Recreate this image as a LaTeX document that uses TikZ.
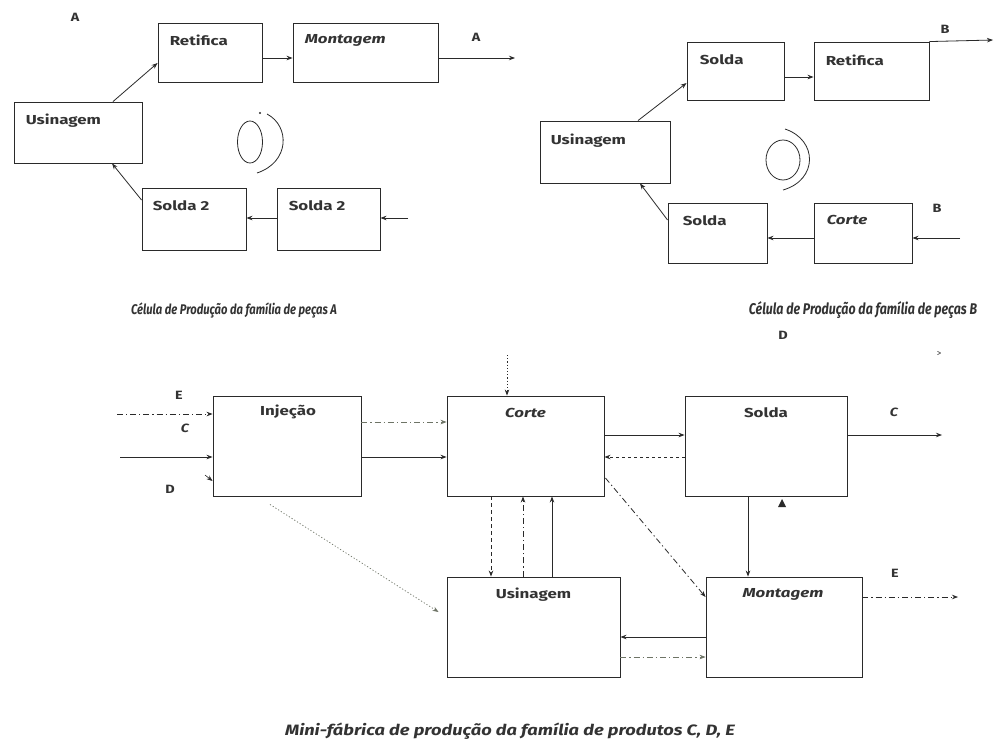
\documentclass[tikz,border=0pt]{standalone}
\usepackage{fontspec}
\setmainfont{Fira Sans}
\newfontfamily\boxfont[FakeStretch=1.3]{Fira Sans}
\newfontfamily\tagfont[FakeStretch=1.2]{Fira Sans}
\newfontfamily\capfont[FakeStretch=0.8]{Fira Sans}
\newfontfamily\bigcapfont[FakeStretch=1.22]{Fira Sans}
\usetikzlibrary{arrows.meta,calc}
\definecolor{ink}{HTML}{2A2A2A}
\definecolor{txt}{HTML}{333333}
\definecolor{pale}{HTML}{6E7466}
\tikzset{
  x=1pt, y=-1pt,
  box/.style={draw=ink, line width=0.9pt, rectangle, inner sep=0pt},
  lbl/.style={font=\boxfont\bfseries\fontsize{13}{13}\selectfont, text=txt, inner sep=0pt},
  lbli/.style={lbl, font=\boxfont\bfseries\itshape\fontsize{13}{13}\selectfont},
  tag/.style={font=\tagfont\bfseries\fontsize{12}{12}\selectfont, text=txt, inner sep=0pt},
  tagi/.style={tag, font=\tagfont\bfseries\itshape\fontsize{12}{12}\selectfont},
  capt/.style={font=\capfont\bfseries\itshape\fontsize{14}{14}\selectfont, text=txt, inner sep=0pt},
  flow/.style={draw=ink, line width=0.8pt, -{Stealth[length=6pt,width=4.5pt]}},
  dflow/.style={flow, dash pattern=on 4pt off 3pt},
  ddflow/.style={flow, dash pattern=on 6pt off 3pt on 1.2pt off 3pt},
  pflow/.style={flow, draw=pale, line width=0.7pt, dash pattern=on 1.2pt off 2pt},
  gflow/.style={flow, draw=pale, line width=0.7pt, dash pattern=on 6pt off 3pt on 1.2pt off 3pt},
}
\begin{document}
\begin{tikzpicture}
\useasboundingbox[fill=white] (0,0) rectangle (999,745);

% ---------- cell for part family A ----------
\node[box, minimum width=104pt, minimum height=59pt] (RetA) at (210,52.5) {};
\node[box, minimum width=145pt, minimum height=59pt] (MontA) at (365.5,52.5) {};
\node[box, minimum width=128pt, minimum height=61pt] (UsiA) at (78,132.5) {};
\node[box, minimum width=104pt, minimum height=62pt] (SolA1) at (194,219) {};
\node[box, minimum width=103pt, minimum height=62pt] (SolA2) at (328.5,219) {};
\node[lbl, anchor=north west] at ($(RetA.north west)+(12,12)$) {Retifica};
\node[lbli, anchor=north west] at ($(MontA.north west)+(12,12)$) {Montagem};
\node[lbl, anchor=north west] at ($(UsiA.north west)+(12,12)$) {Usinagem};
\node[lbl, anchor=north west] at ($(SolA1.north west)+(11,13)$) {Solda 2};
\node[lbl, anchor=north west] at ($(SolA2.north west)+(12,13)$) {Solda 2};
\node[tag] (tagA1) at (75,17) {A};
\node[tag] (tagA2) at (476,37) {A};
\coordinate (outA) at (515,58);
\coordinate (inA) at (408,218);
\draw[flow] (RetA.east |- 0,58) -- (MontA.west |- 0,58);
\draw[flow] (MontA.east |- 0,58) -- (outA);
\draw[flow] (UsiA.north -| 113,0) -- (RetA.west |- 0,63);
\draw[flow] (SolA2.west |- 0,218) -- (SolA1.east |- 0,218);
\draw[flow] (inA) -- (SolA2.east |- 0,218);
\draw[flow] (SolA1.west |- 0,200) -- (UsiA.south -| 112,0);
% flow symbol
\draw[ink, line width=0.8pt] (250,142) ellipse [x radius=12.5, y radius=21];
\draw[ink, line width=0.8pt] (267,114) .. controls (290,126) and (290,162) .. (257,173);
\fill[ink] (260,113) circle (1.1);

% ---------- cell for part family B ----------
\node[box, minimum width=97pt, minimum height=58pt] (SolB1) at (735.5,71) {};
\node[box, minimum width=115pt, minimum height=58pt] (RetB) at (871.5,71) {};
\node[box, minimum width=130pt, minimum height=62pt] (UsiB) at (605,152) {};
\node[box, minimum width=99pt, minimum height=60pt] (SolB2) at (717.5,233) {};
\node[box, minimum width=98pt, minimum height=60pt] (CorB) at (863,233) {};
\node[lbl, anchor=north west] at ($(SolB1.north west)+(13,13)$) {Solda};
\node[lbl, anchor=north west] at ($(RetB.north west)+(12,13)$) {Retifica};
\node[lbl, anchor=north west] at ($(UsiB.north west)+(11,13)$) {Usinagem};
\node[lbl, anchor=north west] at ($(SolB2.north west)+(15,13)$) {Solda};
\node[lbli, anchor=north west] at ($(CorB.north west)+(13,13)$) {Corte};
\node[tag] (tagB1) at (945,29) {B};
\node[tag] (tagB2) at (937,208) {B};
\coordinate (outB) at (993,40);
\coordinate (inB) at (960,238);
\draw[flow] (SolB1.east |- 0,77) -- (RetB.west |- 0,77);
\draw[flow] (RetB.north east) -- (outB);
\draw[flow] (UsiB.north -| 638,0) -- (SolB1.west |- 0,83);
\draw[flow] (CorB.west |- 0,238) -- (SolB2.east |- 0,238);
\draw[flow] (inB) -- (CorB.east |- 0,238);
\draw[flow] (SolB2.west |- 0,220) -- (UsiB.south -| 640,0);
% flow symbol
\draw[ink, line width=0.8pt] (783,160) ellipse [x radius=17, y radius=20];
\draw[ink, line width=0.8pt] (785,129) .. controls (818,140) and (818,180) .. (783,190);

% ---------- captions ----------
\node[capt] (capA) at (234,310) {Célula de Produção da família de peças A};
\node[capt, font=\capfont\bfseries\itshape\fontsize{15.5}{15.5}\selectfont] (capB) at (863,310) {Célula de Produção da família de peças B};
\node[tag] (tagD) at (783,335) {D};
\node[font=\fontsize{9}{9}\selectfont, text=txt, inner sep=0pt] (gt) at (939,354) {>};

% ---------- mini factory for product families C, D, E ----------
\node[box, minimum width=148pt, minimum height=100pt] (Inj) at (287,446) {};
\node[box, minimum width=157pt, minimum height=100pt] (Cor) at (525.5,446) {};
\node[box, minimum width=162pt, minimum height=100pt] (Sol) at (766,446) {};
\node[box, minimum width=173pt, minimum height=100pt] (Usi) at (533.5,627) {};
\node[box, minimum width=156pt, minimum height=100pt] (Mon) at (784,627) {};
\node[lbl] at ($(Inj.north)+(1,16)$) {Injeção};
\node[lbli] at ($(Cor.north)+(0,17)$) {Corte};
\node[lbl] at ($(Sol.north)+(0,17)$) {Solda};
\node[lbl] at ($(Usi.north)+(0,18)$) {Usinagem};
\node[lbli] at ($(Mon.north)+(-1,18)$) {Montagem};

\node[tag] (tagE1) at (179,395) {E};
\node[tagi] (tagC1) at (185,428) {C};
\node[tag] (tagD1) at (170,489) {D};
\node[tagi] (tagC2) at (894,412) {C};
\node[tag] (tagE2) at (895,573) {E};

\coordinate (inE) at (117,414);
\coordinate (inC) at (120,457);
\coordinate (inD) at (205,475);
\coordinate (outC) at (942,435);
\coordinate (outE) at (958,597);
\coordinate (topD) at (507,355);

\draw[ddflow, line width=0.7pt] (inE) -- (Inj.west |- 0,414);
\draw[flow] (inC) -- (Inj.west |- 0,457);
\draw[flow, line width=0.6pt] (inD) -- (Inj.west |- 0,481);
\draw[gflow] (Inj.east |- 0,422) -- (Cor.west |- 0,422);
\draw[flow] (Inj.east |- 0,457) -- (Cor.west |- 0,457);
\draw[pflow] ($(Inj.south -| 270,0)+(0,8)$) -- ($(Usi.west |- 0,612)+(-8,0)$);
\draw[pflow, draw=ink] (topD) -- (Cor.north -| 507,0);

\draw[dflow] (Cor.south -| 491,0) -- (Usi.north -| 491,0);
\draw[ddflow] (Usi.north -| 523,0) -- (Cor.south -| 523,0);
\draw[flow] (Usi.north -| 552,0) -- (Cor.south -| 552,0);

\draw[flow] (Cor.east |- 0,435) -- (Sol.west |- 0,435);
\draw[dflow, dash pattern=on 3pt off 3pt] (Sol.west |- 0,457) -- (Cor.east |- 0,457);
\draw[flow] (Sol.east |- 0,435) -- (outC);
\draw[ddflow] ($(Cor.east |- 0,478)+(1,0)$) -- (Mon.west |- 0,597);
\draw[flow] (Sol.south -| 748,0) -- (Mon.north -| 748,0);
\fill[ink] (778,507) -- (782,499) -- (786,507) -- cycle;

\draw[flow] (Mon.west |- 0,637) -- (Usi.east |- 0,637);
\draw[gflow] (Usi.east |- 0,657) -- (Mon.west |- 0,657);
\draw[gflow, draw=ink] (Mon.east |- 0,597) -- (outE);

\node[font=\bigcapfont\bfseries\itshape\fontsize{15}{15}\selectfont, text=txt, inner sep=0pt] (capCDE) at (510,731) {Mini-fábrica de produção da família de produtos C, D, E};
\end{tikzpicture}
\end{document}
